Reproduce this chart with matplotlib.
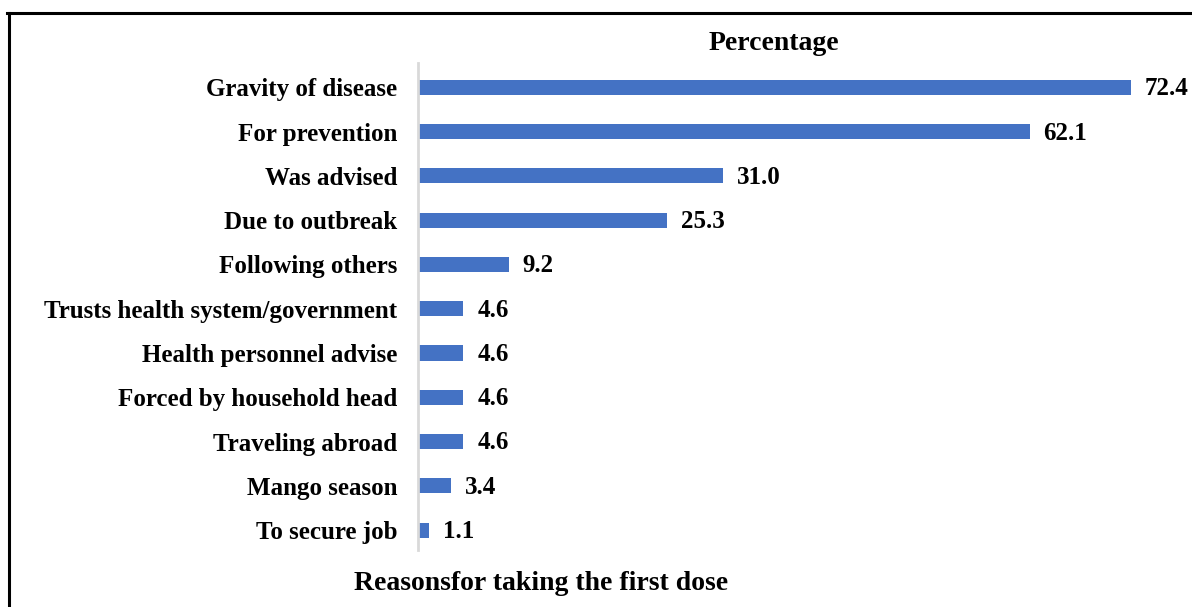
import matplotlib.pyplot as plt
from matplotlib.lines import Line2D

# data (top to bottom)
reasons = ['Gravity of disease', 'For prevention', 'Was advised', 'Due to outbreak',
           'Following others', 'Trusts health system/government', 'Health personnel advise',
           'Forced by household head', 'Traveling abroad', 'Mango season', 'To secure job']
percent = [72.4, 62.1, 31.0, 25.3, 9.2, 4.6, 4.6, 4.6, 4.6, 3.4, 1.1]

plt.rcParams['font.family'] = ['Liberation Serif', 'DejaVu Serif']
plt.rcParams['font.weight'] = 'bold'

W, H = 1192, 607
fig = plt.figure(figsize=(W / 100, H / 100), dpi=100)
ax = fig.add_axes([418 / W, (H - 550) / H, (1131 - 418) / W, 487 / H])

y = list(range(len(reasons)))[::-1]
ax.barh(y, percent, height=0.34, color='#4472C4')
for yi, v in zip(y, percent):
    ax.annotate('%.1f' % v, (v, yi), xytext=(10, -1), textcoords='offset points',
                va='center', ha='left', fontsize=18, fontweight='bold',
                annotation_clip=False)

ax.set_xlim(0, 72.4)
ax.set_ylim(-0.45, 10.55)
ax.set_yticks(y)
ax.set_yticklabels(reasons, fontsize=18, fontweight='bold')
ax.tick_params(axis='y', length=0, pad=15)
ax.set_xticks([])
for s in ['top', 'right', 'bottom']:
    ax.spines[s].set_visible(False)
ax.spines['left'].set_color('#d9d9d9')
ax.spines['left'].set_linewidth(2)

fig.text(774 / W, 1 - 44 / H, 'Percentage', ha='center', va='center',
         fontsize=20, fontweight='bold')
fig.text(541 / W, 1 - 583 / H, 'Reasonsfor taking the first dose', ha='center',
         va='center', fontsize=20, fontweight='bold')

# outer frame (left and top edges visible)
fig.add_artist(Line2D([8.5 / W, 8.5 / W], [0, 1 - 13 / H], transform=fig.transFigure,
                      color='black', linewidth=2.2))
fig.add_artist(Line2D([7.5 / W, 1], [1 - 13 / H, 1 - 13 / H], transform=fig.transFigure,
                      color='black', linewidth=2.2))

fig.savefig('out.png', dpi=100)
